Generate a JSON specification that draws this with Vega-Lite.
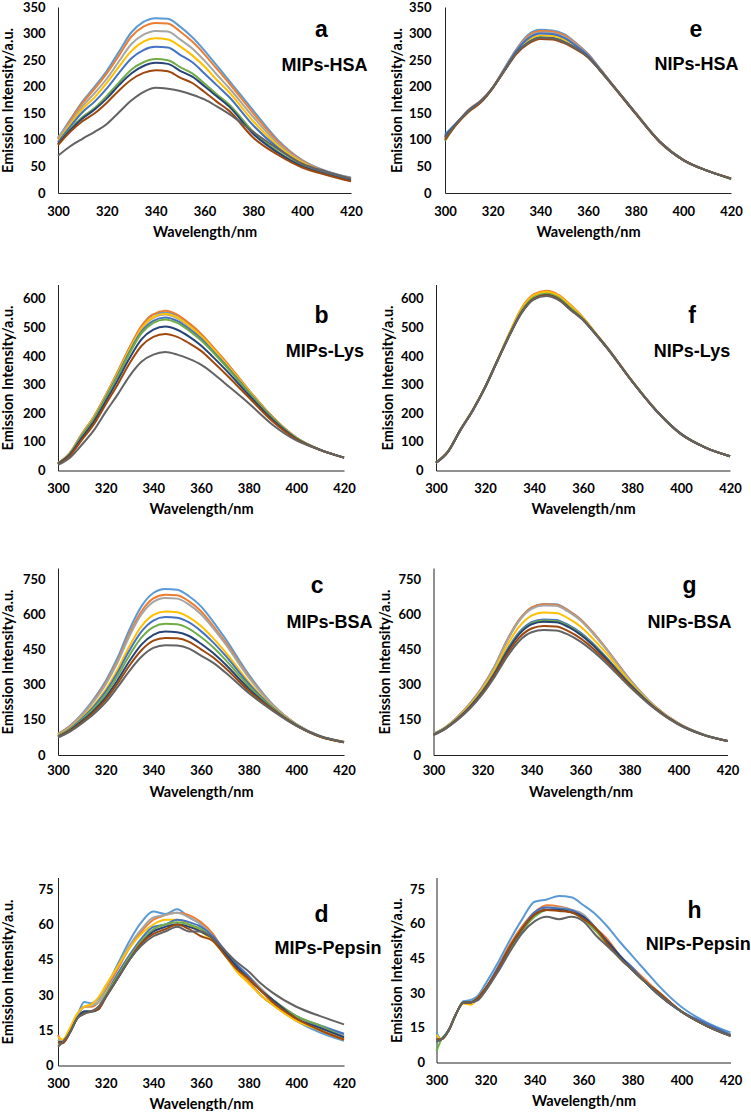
{
"$schema": "https://vega.github.io/schema/vega-lite/v6.json",
"padding": {"top": 1, "left": 0, "right": 0, "bottom": 0},
"background": "white",
"config": {
 "view": {"stroke": null},
 "font": "Lato",
 "axis": {"domainColor": "#222", "domainWidth": 1, "ticks": false, "grid": false, "labelFlush": false, "labelOverlap": false, "labelFont": "Lato", "labelFontWeight": "bold", "labelFontSize": 13, "labelColor": "#000", "titleFont": "Lato", "titleFontWeight": "bold", "titleFontSize": 14.5, "titleColor": "#000"},
 "line": {"strokeWidth": 2, "interpolate": "monotone"},
 "text": {"font": "Liberation Sans", "fontWeight": "bold", "align": "center", "baseline": "alphabetic", "color": "#000"}
},
"datasets": {
"a": [
{"w":300,"s1":103,"s2":101,"s3":105,"s4":97,"s5":95,"s6":92,"s7":92,"s8":90,"s9":70},
{"w":305,"s1":138,"s2":136,"s3":132,"s4":129,"s5":125,"s6":120,"s7":118,"s8":115,"s9":88},
{"w":310,"s1":172,"s2":169,"s3":163,"s4":158,"s5":152,"s6":143,"s7":140,"s8":135,"s9":102},
{"w":315,"s1":200,"s2":196,"s3":188,"s4":180,"s5":172,"s6":160,"s7":157,"s8":150,"s9":115},
{"w":320,"s1":230,"s2":225,"s3":215,"s4":207,"s5":197,"s6":183,"s7":178,"s8":170,"s9":130},
{"w":325,"s1":266,"s2":259,"s3":248,"s4":238,"s5":226,"s6":208,"s7":203,"s8":193,"s9":152},
{"w":330,"s1":302,"s2":294,"s3":280,"s4":267,"s5":253,"s6":232,"s7":225,"s8":213,"s9":174},
{"w":335,"s1":322,"s2":313,"s3":298,"s4":285,"s5":269,"s6":246,"s7":239,"s8":226,"s9":190},
{"w":340,"s1":329,"s2":320,"s3":305,"s4":291,"s5":275,"s6":252,"s7":245,"s8":231,"s9":198},
{"w":345,"s1":328,"s2":319,"s3":304,"s4":289,"s5":274,"s6":250,"s7":243,"s8":229,"s9":196},
{"w":350,"s1":313,"s2":304,"s3":289,"s4":276,"s5":260,"s6":237,"s7":230,"s8":217,"s9":192},
{"w":355,"s1":293,"s2":285,"s3":272,"s4":259,"s5":246,"s6":225,"s7":219,"s8":207,"s9":185},
{"w":360,"s1":268,"s2":261,"s3":249,"s4":238,"s5":225,"s6":206,"s7":201,"s8":190,"s9":176},
{"w":365,"s1":240,"s2":234,"s3":223,"s4":213,"s5":203,"s6":186,"s7":182,"s8":172,"s9":163},
{"w":370,"s1":212,"s2":207,"s3":198,"s4":190,"s5":181,"s6":167,"s7":163,"s8":155,"s9":149},
{"w":380,"s1":155,"s2":150,"s3":143,"s4":135,"s5":127,"s6":115,"s7":111,"s8":104,"s9":115},
{"w":390,"s1":100,"s2":97,"s3":93,"s4":89,"s5":85,"s6":78,"s7":76,"s8":72,"s9":83},
{"w":400,"s1":62,"s2":61,"s3":59,"s4":57,"s5":54,"s6":51,"s7":50,"s8":48,"s9":55},
{"w":410,"s1":41,"s2":40,"s3":39,"s4":38,"s5":37,"s6":35,"s7":35,"s8":34,"s9":40},
{"w":420,"s1":29,"s2":28,"s3":27,"s4":26,"s5":25,"s6":23,"s7":23,"s8":22,"s9":27}
],
"e": [
{"w":300,"s1":110,"s2":100,"s3":105,"s4":103,"s5":108,"s6":98,"s7":106,"s8":100,"s9":104},
{"w":305,"s1":133,"s2":131,"s3":132,"s4":132,"s5":132,"s6":131,"s7":132,"s8":130,"s9":132},
{"w":310,"s1":156,"s2":157,"s3":155,"s4":155,"s5":156,"s6":154,"s7":155,"s8":153,"s9":155},
{"w":315,"s1":172,"s2":174,"s3":172,"s4":172,"s5":173,"s6":171,"s7":172,"s8":170,"s9":172},
{"w":320,"s1":198,"s2":199,"s3":198,"s4":198,"s5":198,"s6":197,"s7":198,"s8":197,"s9":198},
{"w":325,"s1":235,"s2":234,"s3":234,"s4":232,"s5":233,"s6":231,"s7":231,"s8":230,"s9":231},
{"w":330,"s1":271,"s2":270,"s3":269,"s4":266,"s5":268,"s6":264,"s7":264,"s8":262,"s9":264},
{"w":335,"s1":298,"s2":296,"s3":293,"s4":288,"s5":291,"s6":284,"s7":283,"s8":281,"s9":283},
{"w":340,"s1":307,"s2":305,"s3":302,"s4":297,"s5":300,"s6":293,"s7":292,"s8":290,"s9":292},
{"w":345,"s1":306,"s2":304,"s3":301,"s4":296,"s5":299,"s6":292,"s7":291,"s8":289,"s9":291},
{"w":350,"s1":299,"s2":297,"s3":294,"s4":289,"s5":292,"s6":285,"s7":284,"s8":282,"s9":284},
{"w":355,"s1":282,"s2":281,"s3":279,"s4":275,"s5":277,"s6":272,"s7":272,"s8":270,"s9":272},
{"w":360,"s1":262,"s2":261,"s3":260,"s4":258,"s5":259,"s6":256,"s7":256,"s8":255,"s9":256},
{"w":365,"s1":234,"s2":234,"s3":233,"s4":232,"s5":233,"s6":231,"s7":231,"s8":231,"s9":231},
{"w":370,"s1":205,"s2":206,"s3":205,"s4":205,"s5":205,"s6":204,"s7":205,"s8":204,"s9":205},
{"w":380,"s1":150,"s2":151,"s3":150,"s4":150,"s5":150,"s6":150,"s7":150,"s8":149,"s9":150},
{"w":390,"s1":97,"s2":98,"s3":97,"s4":97,"s5":97,"s6":97,"s7":97,"s8":96,"s9":97},
{"w":400,"s1":62,"s2":63,"s3":62,"s4":62,"s5":62,"s6":62,"s7":62,"s8":62,"s9":62},
{"w":410,"s1":42,"s2":42,"s3":42,"s4":42,"s5":42,"s6":42,"s7":42,"s8":42,"s9":42},
{"w":420,"s1":27,"s2":28,"s3":27,"s4":27,"s5":27,"s6":26,"s7":27,"s8":27,"s9":27}
],
"b": [
{"w":300,"s1":25,"s2":25,"s3":25,"s4":25,"s5":24,"s6":24,"s7":23,"s8":22,"s9":20},
{"w":305,"s1":62,"s2":62,"s3":60,"s4":61,"s5":59,"s6":58,"s7":56,"s8":52,"s9":45},
{"w":310,"s1":127,"s2":128,"s3":125,"s4":125,"s5":122,"s6":120,"s7":114,"s8":107,"s9":90},
{"w":315,"s1":187,"s2":188,"s3":184,"s4":185,"s5":180,"s6":178,"s7":170,"s8":161,"s9":140},
{"w":320,"s1":262,"s2":263,"s3":258,"s4":259,"s5":254,"s6":251,"s7":241,"s8":231,"s9":205},
{"w":325,"s1":343,"s2":345,"s3":338,"s4":339,"s5":332,"s6":328,"s7":315,"s8":300,"s9":265},
{"w":330,"s1":428,"s2":430,"s3":421,"s4":423,"s5":414,"s6":409,"s7":392,"s8":374,"s9":330},
{"w":335,"s1":503,"s2":505,"s3":494,"s4":496,"s5":485,"s6":479,"s7":458,"s8":435,"s9":380},
{"w":340,"s1":545,"s2":546,"s3":533,"s4":536,"s5":523,"s6":516,"s7":492,"s8":467,"s9":405},
{"w":345,"s1":552,"s2":558,"s3":545,"s4":548,"s5":535,"s6":528,"s7":503,"s8":477,"s9":414},
{"w":350,"s1":542,"s2":545,"s3":532,"s4":535,"s5":523,"s6":516,"s7":492,"s8":467,"s9":405},
{"w":355,"s1":513,"s2":515,"s3":504,"s4":506,"s5":495,"s6":489,"s7":468,"s8":445,"s9":390},
{"w":360,"s1":476,"s2":478,"s3":468,"s4":470,"s5":461,"s6":455,"s7":437,"s8":418,"s9":370},
{"w":365,"s1":430,"s2":432,"s3":424,"s4":426,"s5":417,"s6":413,"s7":397,"s8":380,"s9":340},
{"w":370,"s1":383,"s2":385,"s3":378,"s4":379,"s5":372,"s6":368,"s7":355,"s8":340,"s9":305},
{"w":380,"s1":281,"s2":282,"s3":278,"s4":279,"s5":274,"s6":272,"s7":264,"s8":256,"s9":235},
{"w":390,"s1":187,"s2":188,"s3":185,"s4":186,"s5":184,"s6":182,"s7":177,"s8":172,"s9":160},
{"w":400,"s1":115,"s2":115,"s3":114,"s4":114,"s5":113,"s6":113,"s7":111,"s8":109,"s9":105},
{"w":410,"s1":72,"s2":72,"s3":72,"s4":72,"s5":72,"s6":72,"s7":72,"s8":72,"s9":72},
{"w":420,"s1":45,"s2":45,"s3":45,"s4":45,"s5":45,"s6":45,"s7":45,"s8":45,"s9":45}
],
"f": [
{"w":300,"s1":28,"s2":28,"s3":28,"s4":28,"s5":27,"s6":28,"s7":27,"s8":27,"s9":26},
{"w":305,"s1":68,"s2":68,"s3":68,"s4":68,"s5":67,"s6":68,"s7":67,"s8":67,"s9":66},
{"w":310,"s1":143,"s2":143,"s3":143,"s4":143,"s5":142,"s6":143,"s7":142,"s8":142,"s9":141},
{"w":315,"s1":211,"s2":211,"s3":211,"s4":211,"s5":210,"s6":211,"s7":210,"s8":210,"s9":209},
{"w":320,"s1":291,"s2":291,"s3":291,"s4":291,"s5":290,"s6":291,"s7":290,"s8":290,"s9":289},
{"w":325,"s1":384,"s2":385,"s3":384,"s4":385,"s5":383,"s6":384,"s7":382,"s8":382,"s9":381},
{"w":330,"s1":478,"s2":481,"s3":477,"s4":480,"s5":475,"s6":476,"s7":473,"s8":473,"s9":472},
{"w":335,"s1":563,"s2":569,"s3":561,"s4":566,"s5":556,"s6":559,"s7":554,"s8":553,"s9":551},
{"w":340,"s1":610,"s2":616,"s3":608,"s4":613,"s5":603,"s6":606,"s7":601,"s8":600,"s9":598},
{"w":345,"s1":622,"s2":628,"s3":620,"s4":625,"s5":615,"s6":618,"s7":613,"s8":612,"s9":610},
{"w":350,"s1":608,"s2":614,"s3":606,"s4":611,"s5":601,"s6":604,"s7":599,"s8":598,"s9":596},
{"w":355,"s1":572,"s2":578,"s3":570,"s4":575,"s5":565,"s6":568,"s7":563,"s8":562,"s9":560},
{"w":360,"s1":532,"s2":535,"s3":531,"s4":533,"s5":528,"s6":530,"s7":527,"s8":527,"s9":526},
{"w":365,"s1":480,"s2":482,"s3":480,"s4":481,"s5":479,"s6":480,"s7":478,"s8":478,"s9":477},
{"w":370,"s1":428,"s2":429,"s3":428,"s4":428,"s5":427,"s6":428,"s7":427,"s8":426,"s9":426},
{"w":380,"s1":313,"s2":313,"s3":313,"s4":313,"s5":312,"s6":313,"s7":312,"s8":312,"s9":311},
{"w":390,"s1":209,"s2":209,"s3":209,"s4":209,"s5":209,"s6":209,"s7":208,"s8":208,"s9":208},
{"w":400,"s1":128,"s2":128,"s3":128,"s4":128,"s5":128,"s6":128,"s7":128,"s8":127,"s9":127},
{"w":410,"s1":80,"s2":80,"s3":80,"s4":80,"s5":80,"s6":80,"s7":80,"s8":80,"s9":80},
{"w":420,"s1":50,"s2":50,"s3":50,"s4":50,"s5":50,"s6":50,"s7":50,"s8":50,"s9":50}
],
"c": [
{"w":300,"s1":90,"s2":89,"s3":88,"s4":84,"s5":82,"s6":81,"s7":79,"s8":77,"s9":75},
{"w":305,"s1":125,"s2":123,"s3":121,"s4":115,"s5":112,"s6":110,"s7":106,"s8":103,"s9":100},
{"w":310,"s1":175,"s2":171,"s3":169,"s4":159,"s5":155,"s6":150,"s7":145,"s8":140,"s9":135},
{"w":315,"s1":239,"s2":233,"s3":229,"s4":213,"s5":207,"s6":199,"s7":190,"s8":183,"s9":175},
{"w":320,"s1":317,"s2":308,"s3":302,"s4":280,"s5":271,"s6":260,"s7":247,"s8":237,"s9":225},
{"w":325,"s1":416,"s2":403,"s3":396,"s4":366,"s5":353,"s6":338,"s7":320,"s8":306,"s9":290},
{"w":330,"s1":537,"s2":519,"s3":509,"s4":466,"s5":448,"s6":427,"s7":402,"s8":383,"s9":360},
{"w":335,"s1":636,"s2":614,"s3":601,"s4":550,"s5":528,"s6":502,"s7":472,"s8":448,"s9":420},
{"w":340,"s1":693,"s2":670,"s3":655,"s4":599,"s5":575,"s6":547,"s7":514,"s8":489,"s9":458},
{"w":345,"s1":710,"s2":686,"s3":672,"s4":614,"s5":590,"s6":561,"s7":528,"s8":501,"s9":470},
{"w":350,"s1":707,"s2":683,"s3":669,"s4":611,"s5":587,"s6":559,"s7":525,"s8":499,"s9":468},
{"w":355,"s1":679,"s2":657,"s3":643,"s4":589,"s5":567,"s6":540,"s7":509,"s8":484,"s9":455},
{"w":360,"s1":636,"s2":615,"s3":602,"s4":552,"s5":530,"s6":505,"s7":476,"s8":452,"s9":425},
{"w":365,"s1":572,"s2":554,"s3":544,"s4":501,"s5":483,"s6":462,"s7":437,"s8":418,"s9":395},
{"w":370,"s1":501,"s2":486,"s3":478,"s4":443,"s5":428,"s6":410,"s7":390,"s8":374,"s9":355},
{"w":380,"s1":345,"s2":337,"s3":332,"s4":313,"s5":305,"s6":295,"s7":284,"s8":275,"s9":265},
{"w":390,"s1":217,"s2":214,"s3":213,"s4":206,"s5":203,"s6":200,"s7":196,"s8":194,"s9":190},
{"w":400,"s1":132,"s2":131,"s3":131,"s4":129,"s5":128,"s6":128,"s7":127,"s8":126,"s9":125},
{"w":410,"s1":80,"s2":80,"s3":81,"s4":80,"s5":80,"s6":79,"s7":79,"s8":78,"s9":80},
{"w":420,"s1":55,"s2":56,"s3":57,"s4":57,"s5":56,"s6":55,"s7":55,"s8":54,"s9":55}
],
"g": [
{"w":300,"s1":91,"s2":90,"s3":90,"s4":88,"s5":87,"s6":87,"s7":87,"s8":86,"s9":85},
{"w":305,"s1":120,"s2":120,"s3":120,"s4":118,"s5":116,"s6":116,"s7":115,"s8":114,"s9":113},
{"w":310,"s1":165,"s2":165,"s3":164,"s4":161,"s5":157,"s6":157,"s7":156,"s8":154,"s9":152},
{"w":315,"s1":222,"s2":222,"s3":221,"s4":215,"s5":209,"s6":208,"s7":207,"s8":203,"s9":200},
{"w":320,"s1":292,"s2":292,"s3":290,"s4":282,"s5":273,"s6":272,"s7":270,"s8":265,"s9":260},
{"w":325,"s1":381,"s2":380,"s3":378,"s4":366,"s5":353,"s6":351,"s7":349,"s8":342,"s9":335},
{"w":330,"s1":491,"s2":490,"s3":487,"s4":468,"s5":449,"s6":445,"s7":442,"s8":431,"s9":420},
{"w":335,"s1":579,"s2":578,"s3":574,"s4":549,"s5":525,"s6":520,"s7":517,"s8":502,"s9":488},
{"w":340,"s1":631,"s2":630,"s3":625,"s4":596,"s5":568,"s6":563,"s7":559,"s8":541,"s9":525},
{"w":345,"s1":646,"s2":645,"s3":640,"s4":610,"s5":580,"s6":575,"s7":570,"s8":552,"s9":535},
{"w":350,"s1":645,"s2":643,"s3":638,"s4":608,"s5":578,"s6":573,"s7":568,"s8":550,"s9":533},
{"w":355,"s1":619,"s2":618,"s3":613,"s4":585,"s5":557,"s6":552,"s7":548,"s8":530,"s9":515},
{"w":360,"s1":581,"s2":580,"s3":575,"s4":550,"s5":524,"s6":519,"s7":515,"s8":499,"s9":485},
{"w":365,"s1":525,"s2":525,"s3":521,"s4":499,"s5":478,"s6":474,"s7":471,"s8":457,"s9":445},
{"w":370,"s1":462,"s2":462,"s3":459,"s4":442,"s5":424,"s6":421,"s7":418,"s8":408,"s9":398},
{"w":380,"s1":325,"s2":325,"s3":323,"s4":315,"s5":306,"s6":305,"s7":303,"s8":298,"s9":293},
{"w":390,"s1":212,"s2":212,"s3":211,"s4":208,"s5":205,"s6":204,"s7":204,"s8":202,"s9":200},
{"w":400,"s1":135,"s2":135,"s3":135,"s4":133,"s5":132,"s6":132,"s7":132,"s8":131,"s9":130},
{"w":410,"s1":88,"s2":88,"s3":88,"s4":87,"s5":87,"s6":87,"s7":87,"s8":86,"s9":86},
{"w":420,"s1":60,"s2":60,"s3":60,"s4":60,"s5":60,"s6":60,"s7":60,"s8":60,"s9":60}
],
"d": [
{"w":300,"s1":11,"s2":13,"s3":11,"s4":12,"s5":10,"s6":9,"s7":10,"s8":10,"s9":8},
{"w":302,"s1":10,"s2":10,"s3":10.5,"s4":11,"s5":10,"s6":10,"s7":10,"s8":9.5,"s9":10},
{"w":305,"s1":15,"s2":15,"s3":15,"s4":16,"s5":14,"s6":14,"s7":14,"s8":14,"s9":14},
{"w":308,"s1":21,"s2":21,"s3":21,"s4":22,"s5":20,"s6":20,"s7":20,"s8":20,"s9":20},
{"w":311,"s1":27,"s2":25,"s3":25,"s4":25,"s5":23,"s6":23,"s7":23,"s8":22,"s9":22},
{"w":314,"s1":26.5,"s2":25,"s3":25.5,"s4":26,"s5":23,"s6":23,"s7":23,"s8":23,"s9":23},
{"w":317,"s1":28.5,"s2":27,"s3":27,"s4":29,"s5":25,"s6":25,"s7":24,"s8":24,"s9":25},
{"w":320,"s1":33,"s2":32,"s3":33,"s4":34,"s5":30,"s6":30,"s7":29,"s8":29,"s9":29},
{"w":325,"s1":43,"s2":41,"s3":42,"s4":42,"s5":39,"s6":38,"s7":37,"s8":37,"s9":37},
{"w":330,"s1":53,"s2":50,"s3":51,"s4":50,"s5":47,"s6":46,"s7":45,"s8":45,"s9":45},
{"w":335,"s1":61,"s2":57,"s3":58,"s4":56,"s5":54,"s6":53,"s7":52,"s8":52,"s9":51},
{"w":340,"s1":65.5,"s2":62,"s3":63,"s4":60,"s5":59,"s6":58,"s7":57,"s8":56,"s9":55},
{"w":345,"s1":64.5,"s2":64,"s3":64,"s4":62,"s5":60,"s6":60,"s7":59,"s8":58,"s9":57},
{"w":350,"s1":66.5,"s2":65,"s3":65,"s4":62,"s5":62,"s6":61,"s7":60,"s8":60,"s9":59},
{"w":355,"s1":63,"s2":64,"s3":63,"s4":60,"s5":61,"s6":60,"s7":59,"s8":58,"s9":57},
{"w":360,"s1":60,"s2":61,"s3":60,"s4":57,"s5":59,"s6":58,"s7":57,"s8":55,"s9":57},
{"w":365,"s1":54,"s2":56,"s3":55,"s4":53,"s5":55,"s6":54,"s7":54,"s8":53,"s9":54},
{"w":370,"s1":47,"s2":48,"s3":49,"s4":47,"s5":49,"s6":48,"s7":48,"s8":47,"s9":49},
{"w":375,"s1":41,"s2":41,"s3":43,"s4":40,"s5":43,"s6":42,"s7":42,"s8":41,"s9":44},
{"w":380,"s1":36,"s2":36,"s3":38,"s4":35,"s5":38,"s6":37,"s7":37,"s8":37,"s9":40},
{"w":385,"s1":30,"s2":30,"s3":33,"s4":30,"s5":32,"s6":32,"s7":32,"s8":32,"s9":35},
{"w":390,"s1":26,"s2":26,"s3":28,"s4":26,"s5":28,"s6":28,"s7":28,"s8":27,"s9":31},
{"w":400,"s1":19,"s2":19.5,"s3":21,"s4":19,"s5":21,"s6":21,"s7":20,"s8":20,"s9":25},
{"w":410,"s1":14,"s2":15,"s3":16,"s4":15,"s5":17,"s6":17,"s7":16,"s8":15,"s9":21},
{"w":420,"s1":10.5,"s2":11,"s3":13,"s4":11,"s5":13.5,"s6":12,"s7":12,"s8":11,"s9":17.5}
],
"h": [
{"w":300,"s1":13,"s2":11,"s3":11,"s4":12,"s5":9,"s6":5,"s7":10,"s8":10,"s9":9},
{"w":302,"s1":10,"s2":10,"s3":10,"s4":10,"s5":10,"s6":10,"s7":10,"s8":10,"s9":10},
{"w":305,"s1":14,"s2":14,"s3":14,"s4":14,"s5":14,"s6":14,"s7":14,"s8":14,"s9":14},
{"w":308,"s1":21,"s2":21,"s3":21,"s4":21,"s5":21,"s6":21,"s7":21,"s8":21,"s9":21},
{"w":311,"s1":26.5,"s2":26,"s3":26,"s4":25.5,"s5":26,"s6":26,"s7":26,"s8":26,"s9":26},
{"w":314,"s1":27,"s2":26,"s3":26,"s4":25,"s5":26,"s6":26,"s7":26,"s8":26,"s9":26},
{"w":317,"s1":29,"s2":28,"s3":28,"s4":28,"s5":28,"s6":28,"s7":28,"s8":28,"s9":27},
{"w":320,"s1":34,"s2":32,"s3":32,"s4":32,"s5":32,"s6":31,"s7":32,"s8":32,"s9":31},
{"w":325,"s1":43,"s2":41,"s3":40,"s4":40,"s5":41,"s6":40,"s7":40,"s8":40,"s9":39},
{"w":330,"s1":53,"s2":51,"s3":50,"s4":50,"s5":50,"s6":49,"s7":50,"s8":50,"s9":48},
{"w":335,"s1":62,"s2":59,"s3":58,"s4":58,"s5":58,"s6":57,"s7":58,"s8":58,"s9":56},
{"w":340,"s1":69.5,"s2":65,"s3":64,"s4":64,"s5":65,"s6":63,"s7":64,"s8":64,"s9":61},
{"w":345,"s1":70.5,"s2":68,"s3":67,"s4":66,"s5":67,"s6":66,"s7":66,"s8":66,"s9":63},
{"w":350,"s1":72,"s2":67.5,"s3":67,"s4":66,"s5":66.5,"s6":66,"s7":66,"s8":65.5,"s9":62},
{"w":355,"s1":71.5,"s2":66,"s3":66,"s4":65,"s5":66,"s6":65,"s7":65,"s8":65,"s9":63},
{"w":360,"s1":68,"s2":62,"s3":64,"s4":62,"s5":63,"s6":62,"s7":63,"s8":62,"s9":61},
{"w":365,"s1":64,"s2":58,"s3":58,"s4":57,"s5":58,"s6":57,"s7":58,"s8":58,"s9":55},
{"w":370,"s1":58.5,"s2":53,"s3":51,"s4":51,"s5":52,"s6":51,"s7":52,"s8":51,"s9":50},
{"w":375,"s1":52,"s2":46,"s3":45,"s4":45,"s5":46,"s6":45,"s7":46,"s8":45,"s9":45},
{"w":380,"s1":46,"s2":41,"s3":40,"s4":40,"s5":41,"s6":40,"s7":40,"s8":40,"s9":40},
{"w":385,"s1":40,"s2":36,"s3":35,"s4":35,"s5":35,"s6":35,"s7":35,"s8":35,"s9":35},
{"w":390,"s1":34,"s2":31,"s3":31,"s4":30,"s5":30,"s6":30,"s7":30,"s8":31,"s9":30},
{"w":400,"s1":24,"s2":22,"s3":22,"s4":22,"s5":22,"s6":22,"s7":22,"s8":22,"s9":22},
{"w":410,"s1":17.5,"s2":16,"s3":16,"s4":16,"s5":17,"s6":16,"s7":16,"s8":16,"s9":16},
{"w":420,"s1":13,"s2":12,"s3":11.5,"s4":11.5,"s5":12,"s6":11.5,"s7":11.5,"s8":11.5,"s9":11.5}
]
},
"spacing": 45.5,
"vconcat": [
{"spacing": 21, "hconcat": [
 {"width": 293, "height": 186, "data": {"name": "a"}, "resolve": {"axis": {"x": "independent", "y": "independent"}},
  "layer": [
   {"transform": [{"fold": ["s1","s2","s3","s4","s5","s6","s7","s8","s9"], "as": ["series","value"]}],
    "mark": "line", "encoding": {
    "x": {"field": "w", "type": "quantitative", "scale": {"domain": [300,420]}, "axis": {"values": [300,320,340,360,380,400,420], "title": "Wavelength/nm", "labelPadding": 12, "titlePadding": 7}},
    "y": {"field": "value", "type": "quantitative", "scale": {"domain": [0,350]}, "axis": {"values": [0,50,100,150,200,250,300,350], "title": "Emission Intensity/a.u.", "labelPadding": 13, "titlePadding": 7}},
    "color": {"field": "series", "type": "nominal", "legend": null, "scale": {"domain": ["s1","s2","s3","s4","s5","s6","s7","s8","s9"], "range": ["#5B9BD5","#ED7D31","#A5A5A5","#FFC000","#4472C4","#70AD47","#264478","#9E480E","#636363"]}}}},
   {"data": {"values": [{}]}, "mark": {"type": "text", "text": "a", "fontSize": 23}, "encoding": {"x": {"datum": 407.9, "axis": null}, "y": {"datum": 293.5, "axis": null}}},
   {"data": {"values": [{}]}, "mark": {"type": "text", "text": "MIPs-HSA", "fontSize": 18}, "encoding": {"x": {"datum": 409.1, "axis": null}, "y": {"datum": 229.6, "axis": null}}}
  ]},
 {"width": 286, "height": 186, "data": {"name": "e"}, "resolve": {"axis": {"x": "independent", "y": "independent"}},
  "layer": [
   {"transform": [{"fold": ["s1","s2","s3","s4","s5","s6","s7","s8","s9"], "as": ["series","value"]}],
    "mark": "line", "encoding": {
    "x": {"field": "w", "type": "quantitative", "scale": {"domain": [300,420]}, "axis": {"values": [300,320,340,360,380,400,420], "title": "Wavelength/nm", "labelPadding": 12, "titlePadding": 7}},
    "y": {"field": "value", "type": "quantitative", "scale": {"domain": [0,350]}, "axis": {"values": [0,50,100,150,200,250,300,350], "title": "Emission Intensity/a.u.", "labelPadding": 14, "titlePadding": 4}},
    "color": {"field": "series", "type": "nominal", "legend": null, "scale": {"domain": ["s1","s2","s3","s4","s5","s6","s7","s8","s9"], "range": ["#5B9BD5","#ED7D31","#A5A5A5","#FFC000","#4472C4","#70AD47","#264478","#9E480E","#636363"]}}}},
   {"data": {"values": [{}]}, "mark": {"type": "text", "text": "e", "fontSize": 23}, "encoding": {"x": {"datum": 405.3, "axis": null}, "y": {"datum": 293.5, "axis": null}}},
   {"data": {"values": [{}]}, "mark": {"type": "text", "text": "NIPs-HSA", "fontSize": 18}, "encoding": {"x": {"datum": 405.5, "axis": null}, "y": {"datum": 231.5, "axis": null}}}
  ]}
]},
{"spacing": 51.5, "vconcat": [
{"spacing": 15, "hconcat": [
 {"width": 286, "height": 186, "data": {"name": "b"}, "resolve": {"axis": {"x": "independent", "y": "independent"}},
  "layer": [
   {"transform": [{"fold": ["s1","s2","s3","s4","s5","s6","s7","s8","s9"], "as": ["series","value"]}],
    "mark": "line", "encoding": {
    "x": {"field": "w", "type": "quantitative", "scale": {"domain": [300,420]}, "axis": {"values": [300,320,340,360,380,400,420], "title": "Wavelength/nm", "labelPadding": 12, "titlePadding": 7}},
    "y": {"field": "value", "type": "quantitative", "scale": {"domain": [0,650]}, "axis": {"values": [0,100,200,300,400,500,600], "title": "Emission Intensity/a.u.", "labelPadding": 13, "titlePadding": 7}},
    "color": {"field": "series", "type": "nominal", "legend": null, "scale": {"domain": ["s1","s2","s3","s4","s5","s6","s7","s8","s9"], "range": ["#5B9BD5","#ED7D31","#A5A5A5","#FFC000","#4472C4","#70AD47","#264478","#9E480E","#636363"]}}}},
   {"data": {"values": [{}]}, "mark": {"type": "text", "text": "b", "fontSize": 23}, "encoding": {"x": {"datum": 410.6, "axis": null}, "y": {"datum": 516, "axis": null}}},
   {"data": {"values": [{}]}, "mark": {"type": "text", "text": "MIPs-Lys", "fontSize": 18}, "encoding": {"x": {"datum": 412, "axis": null}, "y": {"datum": 397, "axis": null}}}
  ]},
 {"width": 294, "height": 186, "data": {"name": "f"}, "resolve": {"axis": {"x": "independent", "y": "independent"}},
  "layer": [
   {"transform": [{"fold": ["s1","s2","s3","s4","s5","s6","s7","s8","s9"], "as": ["series","value"]}],
    "mark": "line", "encoding": {
    "x": {"field": "w", "type": "quantitative", "scale": {"domain": [300,420]}, "axis": {"values": [300,320,340,360,380,400,420], "title": "Wavelength/nm", "labelPadding": 12, "titlePadding": 7}},
    "y": {"field": "value", "type": "quantitative", "scale": {"domain": [0,650]}, "axis": {"values": [0,100,200,300,400,500,600], "title": "Emission Intensity/a.u.", "labelPadding": 13, "titlePadding": 5}},
    "color": {"field": "series", "type": "nominal", "legend": null, "scale": {"domain": ["s1","s2","s3","s4","s5","s6","s7","s8","s9"], "range": ["#5B9BD5","#ED7D31","#A5A5A5","#FFC000","#4472C4","#70AD47","#264478","#9E480E","#636363"]}}}},
   {"data": {"values": [{}]}, "mark": {"type": "text", "text": "f", "fontSize": 23}, "encoding": {"x": {"datum": 404.5, "axis": null}, "y": {"datum": 516, "axis": null}}},
   {"data": {"values": [{}]}, "mark": {"type": "text", "text": "NIPs-Lys", "fontSize": 18}, "encoding": {"x": {"datum": 404.5, "axis": null}, "y": {"datum": 397, "axis": null}}}
  ]}
]},
{"spacing": 77.5, "vconcat": [
{"spacing": 4.5, "hconcat": [
 {"width": 286, "height": 187, "data": {"name": "c"}, "resolve": {"axis": {"x": "independent", "y": "independent"}},
  "layer": [
   {"transform": [{"fold": ["s1","s2","s3","s4","s5","s6","s7","s8","s9"], "as": ["series","value"]}],
    "mark": "line", "encoding": {
    "x": {"field": "w", "type": "quantitative", "scale": {"domain": [300,420]}, "axis": {"values": [300,320,340,360,380,400,420], "title": "Wavelength/nm", "labelPadding": 9, "titlePadding": 8.7}},
    "y": {"field": "value", "type": "quantitative", "scale": {"domain": [0,800]}, "axis": {"values": [0,150,300,450,600,750], "title": "Emission Intensity/a.u.", "labelPadding": 13, "titlePadding": 7}},
    "color": {"field": "series", "type": "nominal", "legend": null, "scale": {"domain": ["s1","s2","s3","s4","s5","s6","s7","s8","s9"], "range": ["#5B9BD5","#ED7D31","#A5A5A5","#FFC000","#4472C4","#70AD47","#264478","#9E480E","#636363"]}}}},
   {"data": {"values": [{}]}, "mark": {"type": "text", "text": "c", "fontSize": 23}, "encoding": {"x": {"datum": 408.7, "axis": null}, "y": {"datum": 693, "axis": null}}},
   {"data": {"values": [{}]}, "mark": {"type": "text", "text": "MIPs-BSA", "fontSize": 18}, "encoding": {"x": {"datum": 413.9, "axis": null}, "y": {"datum": 543, "axis": null}}}
  ]},
 {"width": 294, "height": 187, "data": {"name": "g"}, "resolve": {"axis": {"x": "independent", "y": "independent"}},
  "layer": [
   {"transform": [{"fold": ["s1","s2","s3","s4","s5","s6","s7","s8","s9"], "as": ["series","value"]}],
    "mark": "line", "encoding": {
    "x": {"field": "w", "type": "quantitative", "scale": {"domain": [300,420]}, "axis": {"values": [300,320,340,360,380,400,420], "title": "Wavelength/nm", "labelPadding": 9, "titlePadding": 8.7}},
    "y": {"field": "value", "type": "quantitative", "scale": {"domain": [0,800]}, "axis": {"values": [0,150,300,450,600,750], "title": "Emission Intensity/a.u.", "labelPadding": 13, "titlePadding": 5}},
    "color": {"field": "series", "type": "nominal", "legend": null, "scale": {"domain": ["s1","s2","s3","s4","s5","s6","s7","s8","s9"], "range": ["#5B9BD5","#ED7D31","#A5A5A5","#FFC000","#4472C4","#70AD47","#264478","#9E480E","#636363"]}}}},
   {"data": {"values": [{}]}, "mark": {"type": "text", "text": "g", "fontSize": 23}, "encoding": {"x": {"datum": 404.5, "axis": null}, "y": {"datum": 693, "axis": null}}},
   {"data": {"values": [{}]}, "mark": {"type": "text", "text": "NIPs-BSA", "fontSize": 18}, "encoding": {"x": {"datum": 404.5, "axis": null}, "y": {"datum": 543, "axis": null}}}
  ]}
]},
{"spacing": 7.5, "hconcat": [
 {"width": 286, "height": 188, "data": {"name": "d"}, "resolve": {"axis": {"x": "independent", "y": "independent"}},
  "layer": [
   {"transform": [{"fold": ["s1","s2","s3","s4","s5","s6","s7","s8","s9"], "as": ["series","value"]}],
    "mark": "line", "encoding": {
    "x": {"field": "w", "type": "quantitative", "scale": {"domain": [300,420]}, "axis": {"values": [300,320,340,360,380,400,420], "title": "Wavelength/nm", "labelPadding": 12, "titlePadding": 7}},
    "y": {"field": "value", "type": "quantitative", "scale": {"domain": [0,75]}, "axis": {"values": [0,15,30,45,60,75], "title": "Emission Intensity/a.u.", "labelPadding": 5, "titlePadding": 22.5}},
    "color": {"field": "series", "type": "nominal", "legend": null, "scale": {"domain": ["s1","s2","s3","s4","s5","s6","s7","s8","s9"], "range": ["#5B9BD5","#ED7D31","#A5A5A5","#FFC000","#4472C4","#70AD47","#264478","#9E480E","#636363"]}}}},
   {"data": {"values": [{}]}, "mark": {"type": "text", "text": "d", "fontSize": 23}, "encoding": {"x": {"datum": 410.6, "axis": null}, "y": {"datum": 61, "axis": null}}},
   {"data": {"values": [{}]}, "mark": {"type": "text", "text": "MIPs-Pepsin", "fontSize": 18}, "encoding": {"x": {"datum": 413.3, "axis": null}, "y": {"datum": 47.5, "axis": null}}}
  ]},
 {"width": 294, "height": 185, "data": {"name": "h"}, "resolve": {"axis": {"x": "independent", "y": "independent"}},
  "layer": [
   {"transform": [{"fold": ["s1","s2","s3","s4","s5","s6","s7","s8","s9"], "as": ["series","value"]}],
    "mark": "line", "encoding": {
    "x": {"field": "w", "type": "quantitative", "scale": {"domain": [300,420]}, "axis": {"values": [300,320,340,360,380,400,420], "title": "Wavelength/nm", "labelPadding": 12, "titlePadding": 7}},
    "y": {"field": "value", "type": "quantitative", "scale": {"domain": [0,75]}, "axis": {"values": [0,15,30,45,60,75], "title": "Emission Intensity/a.u.", "labelPadding": 12, "titlePadding": 4.5}},
    "color": {"field": "series", "type": "nominal", "legend": null, "scale": {"domain": ["s1","s2","s3","s4","s5","s6","s7","s8","s9"], "range": ["#5B9BD5","#ED7D31","#A5A5A5","#FFC000","#4472C4","#70AD47","#264478","#9E480E","#636363"]}}}},
   {"data": {"values": [{}]}, "mark": {"type": "text", "text": "h", "fontSize": 23}, "encoding": {"x": {"datum": 405.3, "axis": null}, "y": {"datum": 62.4, "axis": null}}},
   {"data": {"values": [{}]}, "mark": {"type": "text", "text": "NIPs-Pepsin", "fontSize": 18}, "encoding": {"x": {"datum": 406.8, "axis": null}, "y": {"datum": 48.6, "axis": null}}}
  ]}
]}
]}
]}
]
}
